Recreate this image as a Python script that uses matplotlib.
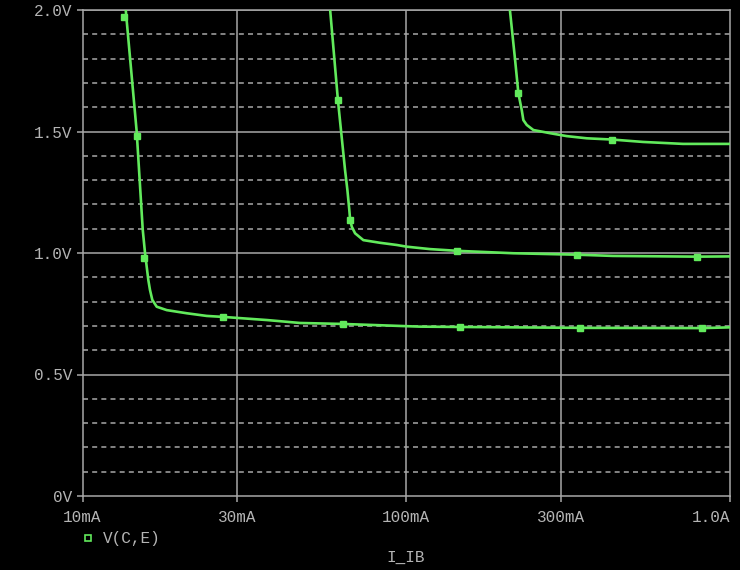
import matplotlib
matplotlib.use('Agg')
import matplotlib.pyplot as plt
from matplotlib.ticker import FixedLocator, NullLocator

# Data (I_IB in mA, V(C,E) in volts).
ib_1 = [13.6, 14.7, 15.35, 15.6, 15.97, 16.16, 16.43, 16.95, 18.2, 21.0, 24.2, 27.2,
        37.2, 47.0, 63.8, 110, 169, 344, 820, 1000]
vce_1 = [2.0, 1.50, 1.095, 1.0, 0.889, 0.848, 0.807, 0.779, 0.765, 0.752, 0.741, 0.737,
         0.724, 0.712, 0.708, 0.697, 0.695, 0.692, 0.691, 0.694]

ib_2 = [58.2, 61.5, 64.7, 65.8, 66.7, 67.1, 67.9, 69.5, 73.7, 83.0, 93.5, 100.3, 118.5,
        143.5, 214, 337, 435, 791, 1000]
vce_2 = [2.0, 1.63, 1.342, 1.259, 1.177, 1.136, 1.108, 1.081, 1.053, 1.042, 1.033, 1.026, 1.016,
         1.009, 0.999, 0.993, 0.988, 0.985, 0.986]

ib_3 = [209, 216.9, 222.0, 227.4, 230.0, 235.6, 247.0, 278.2, 313.3, 361.2, 431.5, 539, 716, 1000]
vce_3 = [2.0, 1.794, 1.657, 1.588, 1.547, 1.527, 1.506, 1.493, 1.481, 1.472, 1.467, 1.457, 1.449, 1.449]

# marker positions on each trace
mk_ib_1 = [13.4, 14.7, 15.5, 27.2, 63.8, 147, 344, 820]
mk_vce_1 = [1.97, 1.48, 0.98, 0.737, 0.708, 0.697, 0.692, 0.691]
mk_ib_2 = [61.5, 67.1, 143.5, 337, 791]
mk_vce_2 = [1.63, 1.136, 1.009, 0.993, 0.985]
mk_ib_3 = [222.0, 431.5]
mk_vce_3 = [1.657, 1.467]

x_ticks = [10, 30, 100, 300, 1000]
x_labels = ['10mA', '30mA', '100mA', '300mA', '1.0A']
y_ticks = [0, 0.5, 1.0, 1.5, 2.0]
y_labels = ['0V', '0.5V', '1.0V', '1.5V', '2.0V']
y_minor = [v / 10 for v in range(1, 20) if v % 5 != 0]

bg = '#000000'
grid_c = '#a8a8a8'
text_c = '#b4b4b4'
green = '#62ea5c'

plt.rcParams['font.family'] = ['Liberation Mono', 'DejaVu Sans Mono']
plt.rcParams['lines.scale_dashes'] = False

fig = plt.figure(figsize=(7.4, 5.7), dpi=100, facecolor=bg)
ax = fig.add_axes([82.5 / 740, 1 - 496 / 570, (730 - 82.5) / 740, (496 - 10) / 570])
ax.set_facecolor(bg)

ax.set_xscale('log')
ax.set_xlim(10, 1000)
ax.set_ylim(0, 2.0)

# grid: solid at major, dashed at minor volts
for v in y_minor:
    ax.axhline(v, color=grid_c, linewidth=1.1, linestyle=(0, (3.6, 3.0)), zorder=1)
for v in y_ticks[1:]:
    ax.axhline(v, color=grid_c, linewidth=1.1, zorder=1)
for x in x_ticks[1:-1]:
    ax.axvline(x, color=grid_c, linewidth=1.1, zorder=1)

for s in ax.spines.values():
    s.set_color(grid_c)
    s.set_linewidth(1.1)

ax.xaxis.set_major_locator(FixedLocator(x_ticks))
ax.xaxis.set_minor_locator(NullLocator())
ax.set_xticklabels(x_labels)
ax.set_yticks(y_ticks)
ax.set_yticklabels(y_labels)
ax.tick_params(axis='both', which='major', colors=grid_c, labelcolor=text_c,
               labelsize=11.5, length=4.3, width=1.1, direction='out')
ax.tick_params(axis='x', pad=5.5)
ax.tick_params(axis='y', pad=2.9)
ax.get_xticklabels()[-1].set_horizontalalignment('right')

for xs, ys in [(ib_1, vce_1), (ib_2, vce_2), (ib_3, vce_3)]:
    ax.plot(xs, ys, color=green, linewidth=1.9, zorder=3)
for xs, ys in [(mk_ib_1, mk_vce_1), (mk_ib_2, mk_vce_2), (mk_ib_3, mk_vce_3)]:
    ax.plot(xs, ys, linestyle='none', marker='s', markersize=4.5, color=green, zorder=4)

# legend entry and x label, PSpice style
fig.add_artist(plt.Line2D([88 / 740], [1 - 538 / 570], marker='s', markersize=4,
                          markerfacecolor=bg, markeredgecolor=green, markeredgewidth=1.2,
                          linestyle='none', transform=fig.transFigure))
fig.text(103 / 740, 1 - 538 / 570, 'V(C,E)', color=text_c, fontsize=11.5, va='center', ha='left')
fig.text(406 / 740, 1 - 557 / 570, 'I_IB', color=text_c, fontsize=11.5, va='center', ha='center')

fig.savefig('out.png', dpi=100, facecolor=bg)
